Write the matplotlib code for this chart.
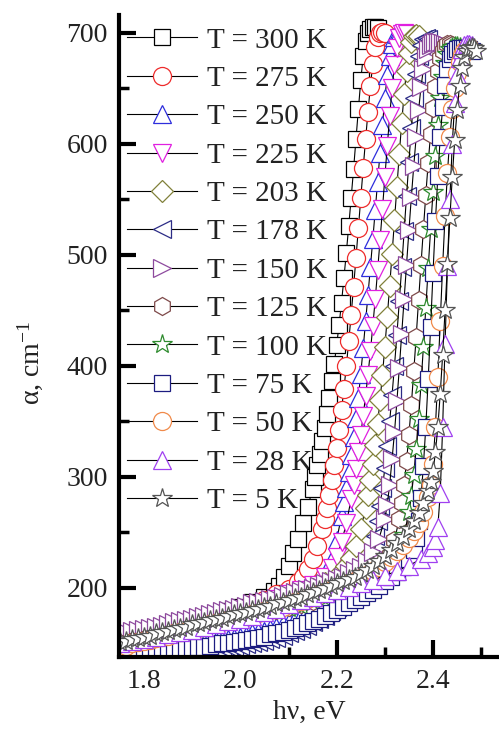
import numpy as np
import matplotlib
matplotlib.use("Agg")
import matplotlib.pyplot as plt
from matplotlib.ticker import MultipleLocator, FormatStrFormatter

plt.rcParams['font.family'] = ['Liberation Serif', 'DejaVu Serif']
plt.rcParams['mathtext.fontset'] = 'custom'
plt.rcParams['mathtext.rm'] = 'Liberation Serif'
plt.rcParams['mathtext.it'] = 'Liberation Serif:italic'

# ---- data: (hv [eV], alpha [cm^-1]) ----
c300 = [(1.75,157),(1.775,159),(1.80,161),(1.825,163),(1.85,165),(1.875,167),(1.90,170),(1.925,172),(1.95,175),(1.975,179),(2.00,183),(2.025,187),(2.05,192),(2.07,197),
        (2.08,202),(2.09,210),(2.10,220),(2.11,231),(2.12,244),(2.13,258),(2.14,273),(2.15,289),(2.155,300),(2.16,311),(2.165,321),(2.17,332),(2.175,344),(2.18,357),
        (2.185,371),(2.19,386),(2.195,402),(2.20,419),(2.205,437),(2.21,457),(2.215,479),(2.22,502),(2.225,526),(2.23,551),(2.235,577),(2.24,604),(2.245,631),(2.25,657),
        (2.255,679),(2.26,693),(2.265,700),(2.27,703),(2.275,705),(2.28,705),(2.285,704)]
c275 = [(1.75,156),(1.775,158),(1.80,160),(1.825,162),(1.85,164),(1.875,166),(1.90,168),(1.925,171),(1.95,174),(1.975,177),(2.00,181),(2.025,185),(2.05,189),(2.075,194),(2.10,199),
        (2.12,205),(2.13,210),(2.14,217),(2.15,226),(2.16,238),(2.17,253),(2.175,262),(2.18,272),(2.185,284),(2.19,297),(2.195,311),(2.20,326),(2.205,342),(2.21,360),
        (2.215,379),(2.22,400),(2.225,422),(2.23,446),(2.235,471),(2.24,497),(2.245,524),(2.25,551),(2.255,578),(2.26,604),(2.265,629),(2.27,652),(2.275,672),(2.28,687),
        (2.285,696),(2.29,700),(2.295,701),(2.30,700)]
c250 = [(1.75,142),(1.7625,142),(1.775,143),(1.7875,143),(1.80,144),(1.8125,144),(1.825,145),(1.8375,145),(1.85,146),(1.8625,147),(1.875,147),(1.8875,148),(1.90,149),
        (1.9125,150),(1.925,150),(1.9375,151),(1.95,152),(1.9625,153),(1.975,154),(1.9875,155),(2.00,156),(2.0125,157),(2.025,159),(2.0375,160),(2.05,161),(2.0625,163),
        (2.075,165),(2.0875,167),(2.10,169),(2.1125,172),(2.125,175),(2.1375,179),(2.15,184),(2.16,190),
        (2.17,200),(2.18,212),(2.19,226),(2.20,243),(2.21,265),(2.215,277),(2.22,290),(2.225,304),(2.23,320),(2.235,336),(2.24,353),(2.245,371),(2.25,393),
        (2.255,416),(2.26,440),(2.265,464),(2.27,489),(2.275,514),(2.28,540),(2.285,566),(2.29,592),(2.295,617),(2.30,641),(2.305,662),(2.31,679),(2.315,690),(2.32,696),
        (2.325,699),(2.33,700),(2.335,700),(2.34,699)]
c225 = [(1.75,154),(1.775,156),(1.80,158),(1.825,160),(1.85,162),(1.875,164),(1.90,167),(1.925,169),(1.95,172),(1.975,175),(2.00,178),(2.025,182),(2.05,186),(2.075,190),(2.10,194),(2.125,198),(2.15,203),(2.175,210),
        (2.19,218),(2.20,228),(2.21,241),(2.22,258),(2.23,280),(2.235,293),(2.24,307),(2.245,322),(2.25,338),(2.255,355),(2.26,373),(2.265,392),(2.27,413),(2.275,436),
        (2.28,460),(2.285,486),(2.29,513),(2.295,541),(2.30,570),(2.305,598),(2.31,625),(2.315,650),(2.32,671),(2.325,686),(2.33,695),(2.335,699),(2.34,700),(2.345,699)]
c203 = [(1.75,153),(1.775,155),(1.80,157),(1.825,159),(1.85,161),(1.875,163),(1.90,165),(1.925,168),(1.95,170),(1.975,173),(2.00,176),(2.025,179),(2.05,183),(2.075,187),(2.10,191),(2.125,195),(2.15,199),(2.175,204),(2.20,211),(2.22,220),
        (2.23,227),(2.24,238),(2.25,253),(2.26,272),(2.265,284),(2.27,297),(2.275,312),(2.28,329),(2.285,348),(2.29,369),(2.295,392),(2.30,417),(2.305,444),(2.31,472),
        (2.315,501),(2.32,531),(2.325,561),(2.33,591),(2.335,619),(2.34,645),(2.345,666),(2.35,682),(2.355,692),(2.36,697),(2.365,698),(2.37,697)]
c178 = [(1.75,139),(1.7625,139),(1.775,139),(1.7875,140),(1.80,140),(1.8125,140),(1.825,141),(1.8375,141),(1.85,141),(1.8625,142),(1.875,142),(1.8875,143),(1.90,143),
        (1.9125,144),(1.925,144),(1.9375,145),(1.95,145),(1.9625,146),(1.975,147),(1.9875,147),(2.00,148),(2.0125,149),(2.025,150),(2.0375,151),(2.05,152),(2.0625,154),
        (2.075,155),(2.0875,157),(2.10,159),(2.1125,161),(2.125,163),(2.1375,166),(2.15,169),(2.1625,172),(2.175,175),(2.1875,179),(2.20,183),(2.2125,187),(2.225,191),
        (2.2375,196),(2.25,201),(2.26,212),(2.27,226),(2.28,247),(2.285,260),(2.29,274),(2.295,290),(2.30,308),(2.305,328),(2.31,350),(2.315,374),(2.32,400),(2.325,428),
        (2.33,458),(2.335,489),(2.34,521),(2.345,553),(2.35,584),(2.355,614),(2.36,641),(2.365,663),(2.37,679),(2.375,689),(2.38,694),(2.385,695),(2.39,694)]
c150 = [(1.75,159),(1.7625,160),(1.775,161),(1.7875,162),(1.80,163),(1.8125,164),(1.825,165),(1.8375,166),(1.85,167),(1.8625,169),(1.875,170),(1.8875,171),(1.90,172),
        (1.9125,174),(1.925,175),(1.9375,176),(1.95,177),(1.9625,179),(1.975,180),(1.9875,181),(2.00,183),(2.0125,184),(2.025,186),(2.0375,187),(2.05,188),(2.0625,190),
        (2.075,191),(2.0875,193),(2.10,194),(2.1125,196),(2.125,197),(2.1375,199),(2.15,200),(2.1625,202),(2.175,204),(2.1875,206),(2.20,208),(2.2125,210),(2.225,213),
        (2.2375,216),(2.25,219),(2.2625,224),(2.275,232),(2.2875,244),(2.30,262),(2.305,275),(2.31,293),
        (2.315,316),(2.32,340),(2.325,368),(2.33,398),(2.335,429),(2.34,460),(2.345,491),(2.35,522),(2.355,552),(2.36,580),(2.365,606),(2.37,630),
        (2.375,651),(2.38,667),(2.385,678),(2.39,685),(2.395,689),(2.40,691),(2.405,692),(2.41,692),(2.415,692),(2.42,691),(2.425,690),(2.43,689)]
c125 = [(1.75,150),(1.775,152),(1.80,154),(1.825,156),(1.85,158),(1.875,160),(1.90,163),(1.925,165),(1.95,168),(1.975,170),(2.00,173),(2.025,175),(2.05,178),(2.075,180),(2.10,183),(2.125,185),(2.15,188),(2.175,191),(2.20,195),(2.225,199),(2.25,204),(2.275,210),(2.295,219),
        (2.31,230),(2.32,243),(2.33,262),(2.335,276),(2.34,293),(2.345,314),(2.35,338),(2.355,365),(2.36,395),(2.365,426),(2.37,459),(2.375,491),(2.38,523),(2.385,554),
        (2.39,583),(2.395,609),(2.40,632),(2.405,651),(2.41,666),(2.415,677),(2.42,684),(2.425,688),(2.43,690),(2.435,690),(2.44,689)]
c100 = [(1.75,149),(1.775,151),(1.80,153),(1.825,155),(1.85,157),(1.875,159),(1.90,162),(1.925,164),(1.95,167),(1.975,169),(2.00,172),(2.025,174),(2.05,177),(2.075,179),(2.10,182),(2.125,184),(2.15,188),(2.175,191),(2.20,195),(2.225,199),(2.25,204),(2.275,210),(2.30,218),(2.32,228),
        (2.33,236),(2.34,248),(2.35,268),(2.355,283),(2.36,302),(2.365,325),(2.37,352),(2.375,383),(2.38,417),(2.385,452),(2.39,488),(2.395,523),(2.40,557),(2.405,589),
        (2.41,617),(2.415,641),(2.42,660),(2.425,673),(2.43,681),(2.435,685),(2.44,687),(2.445,688),(2.45,688),(2.455,687)]
c75 = [(1.75,140),(1.7625,140),(1.775,141),(1.7875,141),(1.80,142),(1.8125,142),(1.825,143),(1.8375,143),(1.85,144),(1.8625,144),(1.875,145),(1.8875,145),(1.90,146),
       (1.9125,147),(1.925,147),(1.9375,148),(1.95,149),(1.9625,150),(1.975,150),(1.9875,151),(2.00,152),(2.0125,153),(2.025,154),(2.0375,155),(2.05,156),(2.0625,158),
       (2.075,159),(2.0875,160),(2.10,162),(2.1125,164),(2.125,166),(2.1375,168),(2.15,170),(2.1625,172),(2.175,175),(2.1875,177),(2.20,180),(2.2125,183),(2.225,186),
       (2.2375,189),(2.25,192),(2.2625,195),(2.275,198),(2.2875,202),(2.30,206),(2.3125,210),(2.325,214),(2.3375,219),(2.35,226),(2.36,234),
       (2.365,245),(2.37,260),(2.375,281),(2.38,310),(2.385,345),(2.39,388),(2.395,435),(2.40,484),(2.405,530),(2.41,571),(2.415,606),(2.42,633),(2.425,653),
       (2.43,667),(2.435,676),(2.44,681),(2.445,684),(2.45,685),(2.455,686),(2.46,686),(2.465,686),(2.47,686),(2.475,685),(2.48,684)]
c50 = [(1.75,147),(1.7625,148),(1.775,150),(1.7875,151),(1.80,152),(1.8125,153),(1.825,155),(1.8375,156),(1.85,157),(1.8625,159),(1.875,160),(1.8875,161),(1.90,163),
       (1.9125,164),(1.925,165),(1.9375,167),(1.95,168),(1.9625,169),(1.975,171),(1.9875,172),(2.00,173),(2.0125,174),(2.025,176),(2.0375,177),(2.05,179),(2.0625,180),
       (2.075,182),(2.0875,183),(2.10,185),(2.1125,187),(2.125,188),(2.1375,190),(2.15,192),(2.1625,194),(2.175,196),(2.1875,198),(2.20,200),(2.2125,202),(2.225,204),
       (2.2375,206),(2.25,209),(2.2625,212),(2.275,215),(2.2875,219),(2.30,223),(2.3125,228),(2.325,233),(2.3375,239),(2.35,245),(2.36,251),(2.37,258),(2.38,268),
       (2.39,282),(2.395,293),(2.40,312),(2.405,345),(2.41,390),(2.415,440),(2.42,490),(2.425,535),(2.43,574),(2.435,606),(2.44,631),(2.445,650),(2.45,664),(2.455,674),
       (2.46,680),(2.465,684),(2.47,686),(2.475,687)]
c28 = [(1.75,150),(1.775,152),(1.80,154),(1.825,156),(1.85,158),(1.875,160),(1.90,162),(1.925,165),(1.95,167),(1.975,170),(2.00,172),(2.025,175),(2.05,178),(2.075,181),(2.10,185),(2.125,189),(2.15,192),(2.175,195),(2.20,198),(2.225,201),(2.25,204),(2.275,207),(2.30,211),(2.325,215),(2.35,220),(2.375,226),
       (2.39,231),(2.40,237),(2.405,243),(2.41,255),(2.415,285),(2.42,345),(2.425,420),(2.43,490),(2.435,550),(2.44,600),(2.445,637),(2.45,662),(2.455,677),(2.46,685),
       (2.465,689),(2.47,690),(2.475,690),(2.48,689)]
c5 = [(1.75,151),(1.7625,152),(1.775,154),(1.7875,155),(1.80,156),(1.8125,157),(1.825,159),(1.8375,160),(1.85,161),(1.8625,163),(1.875,164),(1.8875,165),(1.90,167),
      (1.9125,168),(1.925,169),(1.9375,171),(1.95,172),(1.9625,173),(1.975,175),(1.9875,176),(2.00,177),(2.0125,178),(2.025,180),(2.0375,181),(2.05,183),(2.0625,184),
      (2.075,186),(2.0875,187),(2.10,189),(2.1125,191),(2.125,192),(2.1375,194),(2.15,196),(2.1625,198),(2.175,200),(2.1875,202),(2.20,204),(2.2125,206),(2.225,208),
      (2.2375,210),(2.25,213),(2.2625,216),(2.275,220),(2.2875,224),(2.30,229),(2.3125,234),(2.325,240),(2.3375,246),(2.35,253),(2.36,260),(2.37,267),(2.38,276),
      (2.39,287),(2.395,295),(2.40,305),(2.405,322),(2.41,345),(2.415,375),(2.42,410),(2.425,450),(2.43,492),(2.435,533),(2.44,570),(2.445,603),(2.45,630),(2.455,652),
      (2.46,668),(2.465,678),(2.47,684),(2.475,686),(2.48,687),(2.485,686),(2.49,684)]

labels = ['T = 300 K', 'T = 275 K', 'T = 250 K', 'T = 225 K', 'T = 203 K', 'T = 178 K', 'T = 150 K',
          'T = 125 K', 'T = 100 K', 'T = 75 K', 'T = 50 K', 'T = 28 K', 'T = 5 K']
series = [c300, c275, c250, c225, c203, c178, c150, c125, c100, c75, c50, c28, c5]

# ---- styles ----
markers = ['s', 'o', '^', 'v', 'D', '<', '>', 'h', '*', 's', 'o', '^', '*']
msizes = [12, 13, 13, 13, 11, 13, 13, 13, 15, 12, 13, 13, 15]
colors = ['#000000', '#EE2B2B', '#2E2EDC', '#E020E0', '#80803A', '#2C2C86', '#8E4A9E', '#7E4A4A',
          '#2E8B2E', '#1C1C80', '#F08A4A', '#A040F0', '#555555']

fig = plt.figure(figsize=(4.99, 7.31), dpi=100)
ax = fig.add_axes([119/499, 74/731, 380/499, 642/731])

for data, lab, mk, ms, col in zip(series, labels, markers, msizes, colors):
    arr = np.array(data, dtype=float)
    ax.plot(arr[:, 0], arr[:, 1], color='black', lw=0.8, marker=mk, ms=ms,
            mfc='white', mec=col, mew=0.9, label=lab)

ax.set_xlim(1.748, 2.537)
ax.set_ylim(137.7, 716)

ax.xaxis.set_major_locator(MultipleLocator(0.2))
ax.xaxis.set_minor_locator(MultipleLocator(0.1))
ax.xaxis.set_major_formatter(FormatStrFormatter('%.1f'))
ax.yaxis.set_minor_locator(MultipleLocator(50))
ax.set_yticks([200, 300, 400, 500, 600, 700])

for s in ['top', 'right']:
    ax.spines[s].set_visible(False)
for s in ['left', 'bottom']:
    ax.spines[s].set_linewidth(3)

ax.tick_params(which='major', direction='in', length=12.5, width=3, labelsize=20,
               labelcolor='#222222', pad=8)
ax.tick_params(which='minor', direction='in', length=7, width=2.5)
ax.tick_params(axis='x', which='major', pad=9)

ax.set_xlabel('hν, eV', fontsize=20, color='#222222', labelpad=4)
ax.set_ylabel(r'α, cm$^{-1}$', fontsize=20, color='#222222')
ax.yaxis.set_label_coords(-0.195, 0.458)

leg = ax.legend(loc='upper left', bbox_to_anchor=(0.021, 0.981), frameon=False, fontsize=21,
                handlelength=2.4, handletextpad=0.34, labelspacing=0.41, borderpad=0,
                borderaxespad=0, numpoints=1)
for t in leg.get_texts():
    t.set_color('#222222')
leg.set_zorder(1)

fig.savefig('out.png', dpi=100)
